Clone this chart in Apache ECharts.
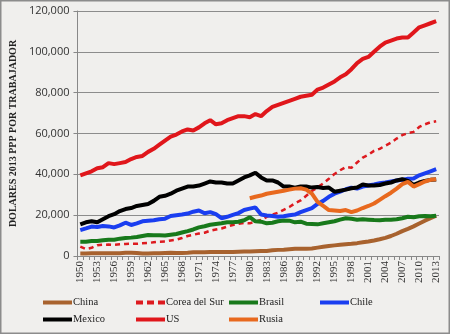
<!DOCTYPE html>
<html>
<head>
<meta charset="utf-8">
<script src="https://cdn.jsdelivr.net/npm/echarts@6/dist/echarts.min.js"></script>
<style>
  html, body { margin: 0; padding: 0; background: #f0efed; }
  #chart { width: 450px; height: 334px; }
</style>
</head>
<body>
<div id="chart"></div>
<script>
// productividad laboral por trabajador, 1950-2013
var years = [];
for (var y = 1950; y <= 2013; y++) years.push(String(y));

var china = [1200, 1200, 1300, 1300, 1300, 1300, 1400, 1400, 1600, 1600,
  1500, 1200, 1200, 1300, 1400, 1500, 1600, 1500, 1500, 1600,
  1800, 1800, 1800, 1900, 1900, 2000, 1900, 2000, 2100, 2200,
  2200, 2300, 2400, 2500, 2800, 3000, 3100, 3300, 3500, 3500,
  3500, 3700, 4100, 4500, 4900, 5200, 5500, 5800, 6000, 6300,
  6700, 7100, 7600, 8200, 8900, 9800, 10900, 12200, 13300, 14500,
  15900, 17300, 18500, 19700];
var corea = [4600, 3400, 4000, 5300, 5500, 5600, 5500, 5700, 5900, 6000,
  6000, 6200, 6400, 6700, 7000, 7100, 7600, 8000, 8800, 9800,
  10400, 11000, 11400, 12400, 13000, 13500, 14400, 15200, 15800, 16200,
  16000, 16800, 17600, 19200, 20300, 21200, 22600, 24000, 25800, 27200,
  29500, 31800, 33600, 35500, 37800, 40200, 42000, 43600, 43200, 45800,
  48200, 49600, 51500, 52500, 54000, 55500, 57500, 59200, 60200, 60800,
  63200, 64500, 65500, 66000];
var brasil = [7000, 7000, 7300, 7300, 7700, 8000, 8000, 8500, 8800, 9000,
  9300, 9800, 10300, 10200, 10200, 10000, 10400, 10800, 11500, 12200,
  13000, 14000, 14600, 15300, 15700, 16000, 16500, 16500, 16800, 17500,
  19000, 17000, 16800, 16000, 16300, 17000, 17400, 17300, 16500, 16800,
  15800, 15700, 15500, 16000, 16500, 17000, 17800, 18500, 18200, 17800,
  18000, 17800, 17600, 17500, 17800, 17800, 18000, 18500, 19200, 19000,
  19500, 19600, 19500, 19700];
var chile = [12700, 13500, 14400, 14200, 14700, 14500, 14000, 15000, 16300, 15200,
  16000, 17000, 17300, 17500, 18000, 18300, 19600, 20000, 20300, 20800,
  21700, 22300, 20900, 21500, 20500, 18500, 19200, 20100, 21000, 22500,
  23200, 23800, 20300, 19800, 19600, 19200, 19500, 20000, 20300, 21500,
  22500, 23500, 25500, 27000, 29000, 30500, 31500, 32700, 33500, 33000,
  34000, 34500, 35000, 35600, 36000, 36500, 37000, 37300, 37800, 38000,
  39500, 40500, 41500, 42500];
var mexico = [15500, 16500, 17000, 16500, 18000, 19500, 20500, 22000, 23000, 23500,
  24500, 25000, 25500, 27000, 29000, 29500, 30500, 32000, 33000, 34000,
  34000, 34500, 35500, 36500, 36000, 36000, 35500, 35500, 37000, 38500,
  39500, 40800, 38500, 37000, 37000, 36000, 34000, 34000, 33500, 34000,
  34000, 33500, 33800, 33300, 33500, 31500, 32000, 32500, 33200, 33500,
  35000, 34500, 34500, 34800, 35500, 36000, 37000, 37600, 36800, 34800,
  36000, 36800, 37300, 37500];
var us = [39500, 40500, 41500, 43000, 43500, 45500, 45000, 45500, 46000, 47500,
  48500, 49000, 51000, 52500, 54500, 56500, 58500, 59500, 61000, 62000,
  61500, 63000, 65000, 66500, 64500, 65000, 66500, 67500, 68500, 68500,
  68000, 69500, 68500, 71000, 73000, 74000, 75000, 76000, 77000, 78000,
  78500, 79000, 81500, 82500, 84000, 85500, 87500, 89000, 91500, 94500,
  96500, 97500, 100000, 102500, 104500, 105500, 106500, 107000, 107000, 109500,
  112000, 113000, 114000, 115000];
var rusia = [null, null, null, null, null, null, null, null, null, null,
  null, null, null, null, null, null, null, null, null, null,
  null, null, null, null, null, null, null, null, null, null,
  28300, 29000, 29600, 30500, 31000, 31500, 32000, 32500, 33000, 33200,
  32500, 30500, 26500, 24500, 22500, 22300, 22000, 22500, 21500, 22300,
  23500, 24500, 25700, 27500, 29300, 31000, 33000, 35200, 36300, 34000,
  35200, 36500, 37300, 37600];

var serif = '"Liberation Serif", "DejaVu Serif", serif';
var dashIcon = 'path://M0,0h7v4h-7z M11,0h7v4h-7z M22,0h7v4h-7z';

function line(name, data, color, dashed) {
  return {
    name: name,
    type: 'line',
    data: data,
    symbol: 'none',
    connectNulls: false,
    lineStyle: { color: color, width: dashed ? 2.5 : 4, type: dashed ? [5, 4] : 'solid' },
    itemStyle: { color: color }
  };
}

function legendCol(left, names) {
  return {
    orient: 'vertical',
    left: left,
    top: 297,
    itemWidth: 29,
    itemHeight: 4,
    itemGap: 6,
    padding: 0,
    textStyle: { fontFamily: serif, fontSize: 10.5, color: '#222', padding: [0, 0, 0, -4] },
    data: names.map(function (n) {
      return { name: n, icon: n === 'Corea del Sur' ? dashIcon : 'rect' };
    })
  };
}

var chart = echarts.init(document.getElementById('chart'));
chart.setOption({
  animation: false,
  backgroundColor: '#f0efed',
  graphic: [{
    type: 'rect',
    shape: { x: 0.5, y: 0.5, width: 449, height: 333 },
    style: { fill: 'none', stroke: '#8c8c8c', lineWidth: 2 },
    silent: true
  }],
  legend: [
    legendCol(43, ['China', 'Mexico']),
    legendCol(136, ['Corea del Sur', 'US']),
    legendCol(229, ['Brasil', 'Rusia']),
    legendCol(320, ['Chile'])
  ],
  grid: { left: 73, right: 11, top: 11, bottom: 78 },
  xAxis: {
    type: 'category',
    data: years,
    boundaryGap: true,
    axisLine: { lineStyle: { color: '#888', width: 1 } },
    axisTick: { show: true, interval: 0, length: 4, lineStyle: { color: '#888' } },
    axisLabel: {
      interval: 2,
      rotate: 90,
      fontFamily: serif,
      fontSize: 11,
      color: '#333',
      margin: 5
    }
  },
  yAxis: {
    type: 'value',
    min: 0,
    max: 120000,
    interval: 20000,
    name: 'DOLARES 2013 PPP POR TRABAJADOR',
    nameLocation: 'middle',
    nameRotate: 90,
    nameGap: 56,
    nameTextStyle: { fontFamily: serif, fontWeight: 'bold', fontSize: 10, color: '#222' },
    axisLine: { show: true, lineStyle: { color: '#888' } },
    axisTick: { show: true, length: 4, lineStyle: { color: '#888' } },
    axisLabel: {
      fontFamily: '"Open Sans", "DejaVu Sans", sans-serif',
      fontSize: 11,
      color: '#333',
      margin: 8,
      formatter: function (v) { return v.toLocaleString('en-US'); }
    },
    splitLine: { lineStyle: { color: '#8c8c8c', width: 1 } }
  },
  series: [
    line('China', china, '#a8622e'),
    line('Corea del Sur', corea, '#dd1a1f', true),
    line('Brasil', brasil, '#18791b'),
    line('Chile', chile, '#1a3ef0'),
    line('Mexico', mexico, '#000000'),
    line('US', us, '#e0161b'),
    line('Rusia', rusia, '#e8691e')
  ]
});
</script>
</body>
</html>
